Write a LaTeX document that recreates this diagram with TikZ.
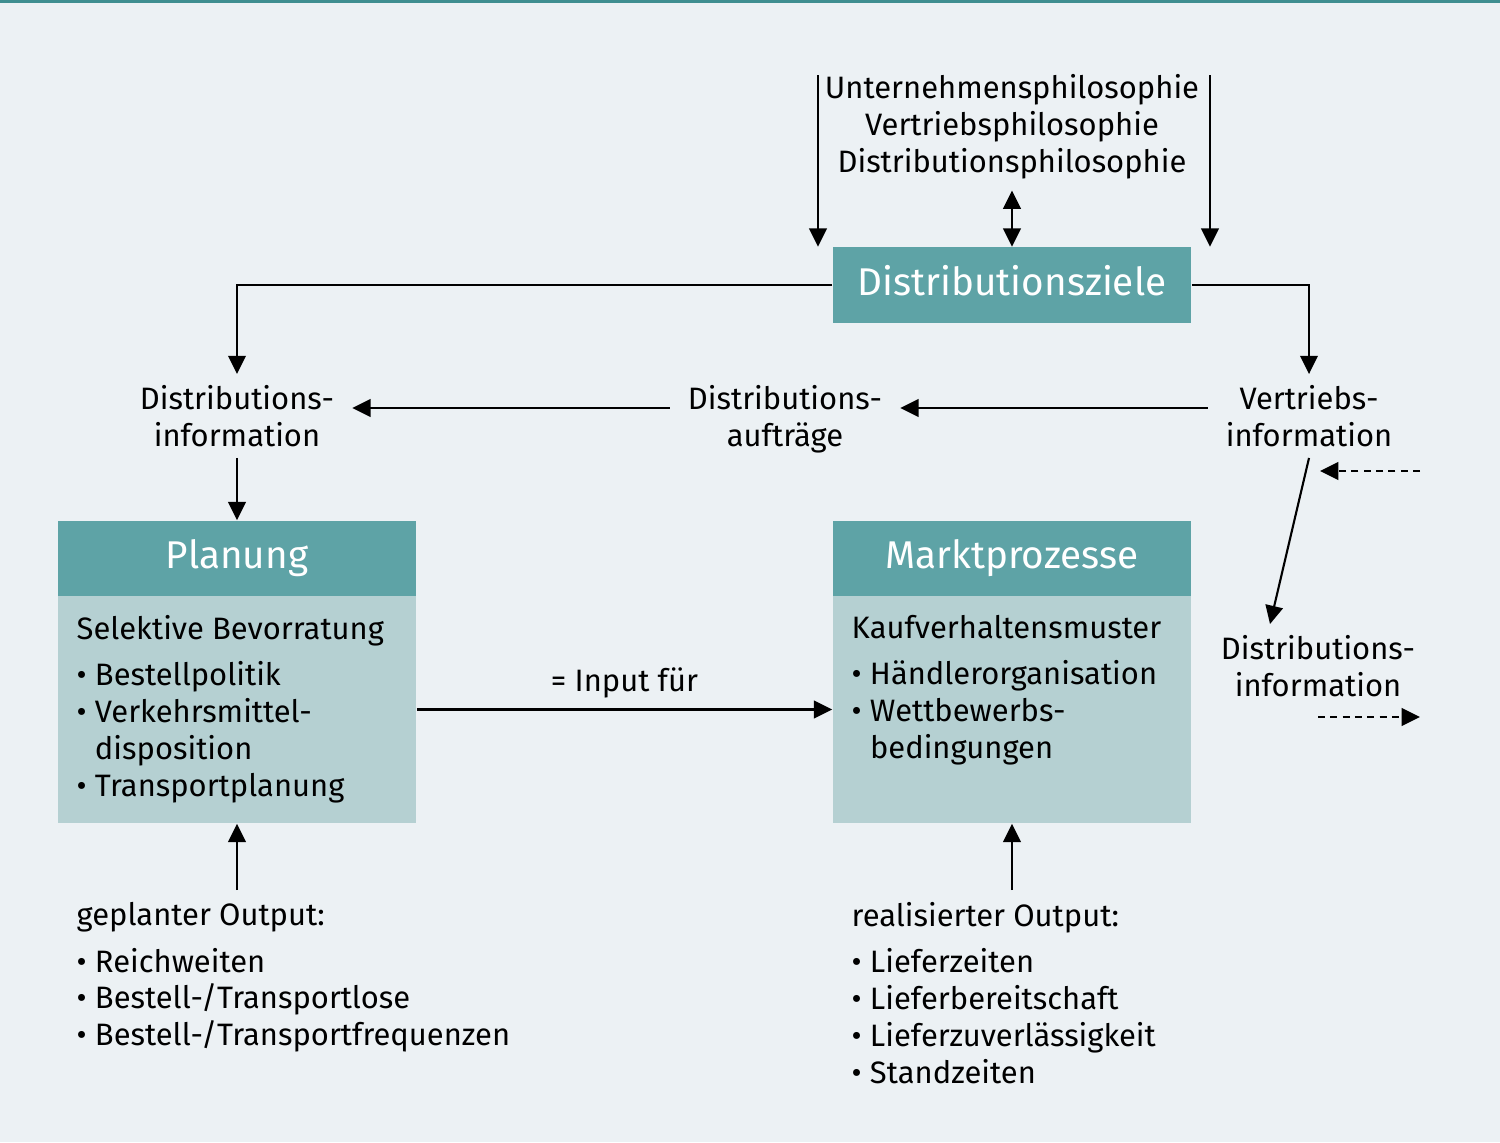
\documentclass[tikz,border=0pt]{standalone}
\usepackage{fontspec}
\setmainfont{Fira Sans}
\usetikzlibrary{arrows.meta,calc}
\definecolor{bg}{HTML}{ECF1F4}
\definecolor{tealhd}{HTML}{5EA3A6}
\definecolor{tealbody}{HTML}{B5D0D2}
\definecolor{topline}{HTML}{3F8E90}
\newcommand{\bul}{\makebox[5.2pt][l]{•}}
\newcommand{\ind}{\hspace*{5.2pt}}
\begin{document}
\begin{tikzpicture}[x=0.01cm,y=-0.01cm,
  font=\fontsize{8.8}{10.5}\selectfont,
  arr/.style={-{Triangle[length=5.2pt,width=5pt]}, line width=0.6pt},
  darr/.style={{Triangle[length=5.2pt,width=5pt]}-{Triangle[length=5.2pt,width=5pt]}, line width=0.6pt},
  dasharr/.style={arr, dash pattern=on 2pt off 1.5pt},
  hdr/.style={fill=tealhd, text=white, font=\fontsize{11}{13}\selectfont, minimum width=3.58cm, minimum height=0.75cm, inner sep=0, text depth=2.6pt},
  bodybox/.style={fill=tealbody, minimum width=3.58cm, minimum height=2.27cm, inner sep=0},
  lbl/.style={align=center, inner xsep=5pt, inner ysep=3pt},
  txt/.style={align=left, anchor=north west, inner xsep=0, inner ysep=0},
]
\useasboundingbox (0,0) rectangle (1500,1142);
\fill[bg] (0,0) rectangle (1500,1142);
\fill[topline] (0,0) rectangle (1500,3);

% top philosophy text
\node[align=center, inner sep=3pt] (ph) at (1012,127) {Unternehmensphilosophie\\Vertriebsphilosophie\\Distributionsphilosophie};
\node[hdr] (zl) at (1012,285) {Distributionsziele};
\coordinate (tl) at (818,75);
\coordinate (tr) at (1210,75);
\draw[arr] (tl) -- (tl |- zl.north);
\draw[arr] (tr) -- (tr |- zl.north);
\draw[darr] (ph.south) -- (zl.north);

% labels row
\node[lbl] (di) at (237,416) {Distributions-\\information};
\node[lbl] (da) at (785,419) {Distributions-\\aufträge};
\node[lbl] (vi) at (1309,416) {Vertriebs-\\information};
\coordinate (row) at (0,408);
\draw[arr] (zl.west) -| (di.north);
\draw[arr] (zl.east) -| (vi.north);
\draw[arr] (da.west |- row) -- (di.east |- row);
\draw[arr] (vi.west |- row) -- (da.east |- row);

% right side
\node[lbl] (dj) at (1318,666) {Distributions-\\information};
\draw[arr] (vi.south) -- ($(dj.north)+(-48,0)$);
\coordinate (d1a) at (1420,471);
\coordinate (d1b) at (1320,471);
\draw[dasharr] (d1a) -- (d1b);
\coordinate (d2a) at (1318,717);
\coordinate (d2b) at (1420,717);
\draw[dasharr] (d2a) -- (d2b);

% Planung
\node[hdr] (pl) at (237,558.5) {Planung};
\node[bodybox] (plb) at (237,709.5) {};
\node[txt] (plt) at (76,615) {Selektive Bevorratung\\[2.6pt]\bul Bestellpolitik\\\bul Verkehrsmittel-\\\ind disposition\\\bul Transportplanung};
\draw[arr] (di.south) -- (pl.north);

% Marktprozesse
\node[hdr] (mp) at (1012,558.5) {Marktprozesse};
\node[bodybox] (mpb) at (1012,709.5) {};
\node[txt] (mpt) at (851,615) {Kaufverhaltensmuster\\[2.6pt]\bul Händlerorganisation\\\bul Wettbewerbs-\\\ind bedingungen};

\draw[arr] (plb.east) -- node[above, inner sep=3pt] {= Input für} (mpb.west);

% bottom outputs
\node[txt, inner ysep=0.12cm] (gout) at (76,890) {geplanter Output:\\[2.6pt]\bul Reichweiten\\\bul Bestell-/Transportlose\\\bul Bestell-/Transportfrequenzen};
\node[txt, inner ysep=0.12cm] (rout) at (851,890) {realisierter Output:\\[2.6pt]\bul Lieferzeiten\\\bul Lieferbereitschaft\\\bul Lieferzuverlässigkeit\\\bul Standzeiten};
\draw[arr] (plb.south |- gout.north) -- (plb.south);
\draw[arr] (mpb.south |- rout.north) -- (mpb.south);
\end{tikzpicture}
\end{document}
